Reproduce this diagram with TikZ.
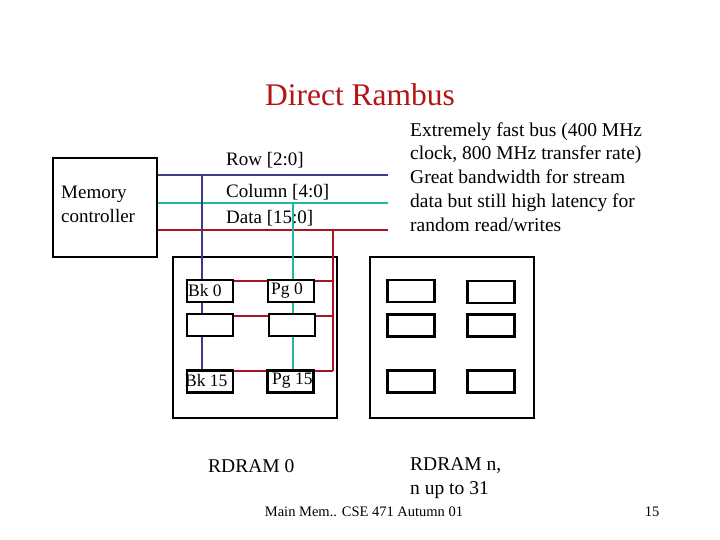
\documentclass[tikz,border=0pt]{standalone}
\usepackage{fontspec}
\setmainfont{Liberation Serif}
\begin{document}
\begin{tikzpicture}[x=1pt,y=-1pt,
  bx/.style={draw,line width=2pt},
  sm/.style={draw,line width=2.2pt},
  txt/.style={anchor=west,inner sep=0pt,font=\fontsize{19.5}{24}\selectfont},
  rowc/.style={draw={rgb,255:red,60;green,60;blue,140},line width=1.6pt},
  colc/.style={draw={rgb,255:red,30;green,185;blue,160},line width=1.6pt},
  datc/.style={draw={rgb,255:red,170;green,20;blue,30},line width=1.6pt}]
\useasboundingbox (0,0) rectangle (720,540);
\node[text={rgb,255:red,180;green,20;blue,20},font=\fontsize{31.5}{34}\selectfont] (title) at (360,95) {Direct Rambus};
% memory controller
\node[bx,minimum width=104,minimum height=99,inner sep=0pt] (mc) at (105,207.5) {};
\node[txt,align=left,font=\fontsize{19}{24}\selectfont] (mct) at (61,204) {Memory\\controller};
% bus lines
\coordinate (re) at (388,175); \coordinate (ce) at (388,203); \coordinate (de) at (388,230);
\draw[rowc] (mc.east |- re) -- (re);
\draw[colc] (mc.east |- ce) -- (ce);
\draw[datc] (mc.east |- de) -- (de);
\node[txt,font=\fontsize{19}{24}\selectfont] (rl) at (226,160) {Row [2:0]};
\node[txt,font=\fontsize{19}{24}\selectfont] (cl) at (226,192) {Column [4:0]};
\node[txt,font=\fontsize{19}{24}\selectfont] (dl) at (226,218) {Data [15:0]};
% RDRAM boxes
\node[bx,minimum width=164,minimum height=161,inner sep=0pt] (r0) at (255,337.5) {};
\node[bx,minimum width=164,minimum height=161,inner sep=0pt] (rn) at (452,337.5) {};
% inner boxes RDRAM 0
\foreach \n/\x/\y in {a1/210/291,a2/210/325,a3/210/381.5,b1/291/291,b2/292/325,b3/290.5/381.5}
  \node[sm,minimum width=46,minimum height=22,inner sep=0pt,fill=white] (\n) at (\x,\y) {};
% data connections
\coordinate (dv) at (333,230); \coordinate (d1) at (333,281); \coordinate (d2) at (333,316); \coordinate (d3) at (333,371);
\draw[datc] (dv) -- (d3);
\draw[datc] (a1.east |- d1) -- (b1.west |- d1) (b1.east |- d1) -- (d1);
\draw[datc] (a2.east |- d2) -- (b2.west |- d2) (b2.east |- d2) -- (d2);
\draw[datc] (a3.east |- d3) -- (b3.west |- d3) (b3.east |- d3) -- (d3);
% row and column verticals
\coordinate (rv) at (202,175); \coordinate (cv) at (293,203);
\draw[rowc] (rv) -- (a1.north -| rv) (a1.south -| rv) -- (a2.north -| rv) (a2.south -| rv) -- (a3.north -| rv);
\draw[colc] (cv) -- (b1.north -| cv) (b1.south -| cv) -- (b2.north -| cv) (b2.south -| cv) -- (b3.north -| cv);
\node[txt,font=\fontsize{17.5}{20}\selectfont] (t1) at (188,291) {Bk 0};
\node[txt,font=\fontsize{17.5}{20}\selectfont] (t2) at (271,291) {Pg 0};
\node[txt,font=\fontsize{17.5}{20}\selectfont] (t3) at (185,381) {Bk 15};
\node[txt,font=\fontsize{17.5}{20}\selectfont] (t4) at (272,381) {Pg 15};
% inner boxes RDRAM n
\foreach \n/\x/\y in {c1/411/291,c2/411/325.5,c3/411/381.5,e1/491/292,e2/491/325.5,e3/491/381.5}
  \node[sm,minimum width=47,minimum height=22,inner sep=0pt] (\n) at (\x,\y) {};
\node[txt,align=left,font=\fontsize{19.5}{23.8}\selectfont] (desc) at (410,177) {Extremely fast bus (400 MHz\\clock, 800 MHz transfer rate)\\Great bandwidth for stream\\data but still high latency for\\random read/writes};
\node[txt] (l0) at (208,466) {RDRAM 0};
\node[txt,align=left] (ln) at (410,478) {RDRAM n,\\n up to 31};
\node[font=\fontsize{14.5}{16}\selectfont] (ft) at (364,512) {Main Mem.. CSE 471 Autumn 01};
\node[font=\fontsize{14.5}{16}\selectfont] (pg) at (652,512) {15};
\end{tikzpicture}
\end{document}
